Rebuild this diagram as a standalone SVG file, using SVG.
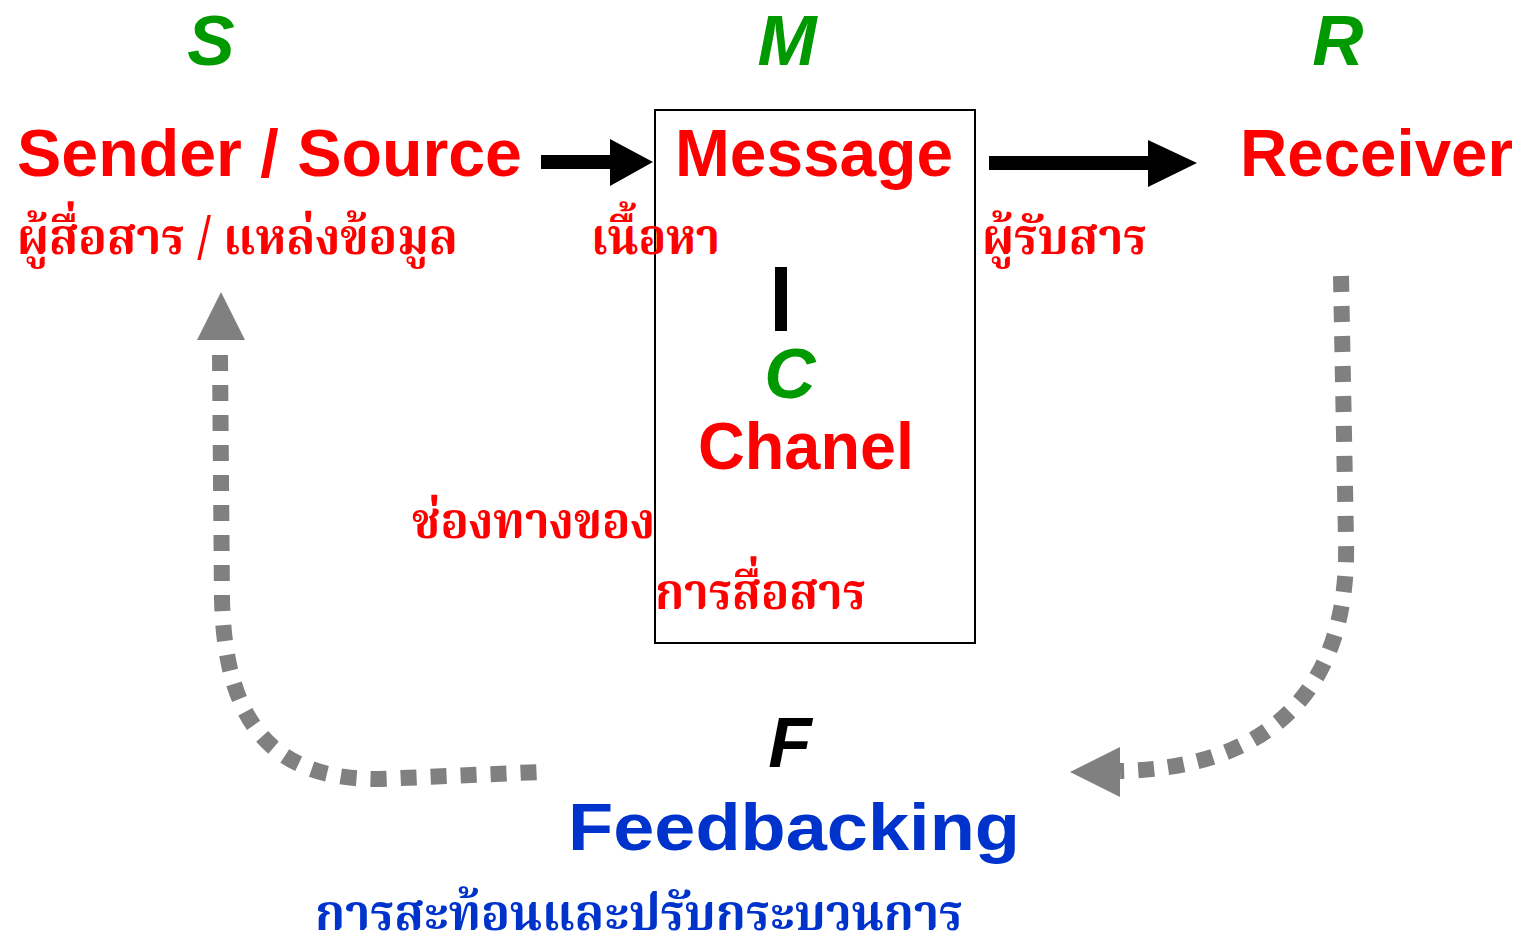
<svg xmlns="http://www.w3.org/2000/svg" width="1522" height="943" viewBox="0 0 1522 943">
<style>
.en{font-family:"Liberation Sans",Arial,sans-serif;font-weight:bold}
.big{font-size:67px}
.ltr{font-size:71px;font-style:italic}
.th{font-family:"Noto Serif Thai","Noto Sans Thai","Loma","Garuda","Noto Sans","DejaVu Sans",sans-serif;font-size:50px;font-weight:bold}
.red{fill:#FF0000}
.green{fill:#009900}
.blue{fill:#0033CC}
.blk{fill:#000000}
.dash{fill:none;stroke:#808080;stroke-width:16;stroke-dasharray:16 14}
</style>
<rect width="1522" height="943" fill="#FFFFFF"/>
<g id="letters">
<text class="en ltr green" x="211" y="65" text-anchor="middle">S</text>
<text class="en ltr green" x="787" y="65" text-anchor="middle">M</text>
<text class="en ltr green" x="1338" y="65" text-anchor="middle">R</text>
</g>
<g id="sender">
<text class="en big red" x="17" y="176" textLength="505" lengthAdjust="spacingAndGlyphs">Sender / Source</text>
<text class="th red" x="17" y="254" textLength="441" lengthAdjust="spacingAndGlyphs">ผู้สื่อสาร / แหล่งข้อมูล</text>
</g>
<g id="message">
<rect x="655" y="110" width="320" height="533" fill="none" stroke="#000" stroke-width="2"/>
<text class="en big red" x="675" y="176" textLength="278" lengthAdjust="spacingAndGlyphs">Message</text>
<text class="th red" x="591" y="254" textLength="129" lengthAdjust="spacingAndGlyphs">เนื้อหา</text>
<rect x="775" y="267" width="12" height="64" fill="#000"/>
</g>
<g id="channel">
<text class="en ltr green" x="790" y="398" text-anchor="middle">C</text>
<text class="en big red" x="698" y="469" textLength="216" lengthAdjust="spacingAndGlyphs">Chanel</text>
<text class="th red" x="412" y="538" textLength="243" lengthAdjust="spacingAndGlyphs">ช่องทางของ</text>
<text class="th red" x="655" y="609" textLength="211" lengthAdjust="spacingAndGlyphs">การสื่อสาร</text>
</g>
<g id="receiver">
<text class="en big red" x="1240" y="176" textLength="273" lengthAdjust="spacingAndGlyphs">Receiver</text>
<text class="th red" x="982" y="254" textLength="165" lengthAdjust="spacingAndGlyphs">ผู้รับสาร</text>
</g>
<g id="feedback">
<text class="en ltr blk" x="790" y="767" text-anchor="middle">F</text>
<text class="en big blue" x="568" y="850" textLength="452" lengthAdjust="spacingAndGlyphs">Feedbacking</text>
<text class="th blue" x="315" y="930" textLength="648" lengthAdjust="spacingAndGlyphs">การสะท้อนและปรับกระบวนการ</text>
</g>
<g id="connectors">
<rect x="541" y="155" width="72" height="14" fill="#000"/>
<polygon points="653,162 610,139 610,186" fill="#000"/>
<rect x="989" y="156" width="162" height="14" fill="#000"/>
<polygon points="1197,163 1148,140 1148,187" fill="#000"/>
<path class="dash" d="M1341,276 L1346,540 C1350,700 1260,768 1120,771"/>
<polygon points="1070,772 1120,747 1120,797" fill="#808080"/>
<path class="dash" d="M220,355 L222,600 C225,720 270,780 380,779 L540,772"/>
<polygon points="221,292 197,340 245,340" fill="#808080"/>
</g>
</svg>
